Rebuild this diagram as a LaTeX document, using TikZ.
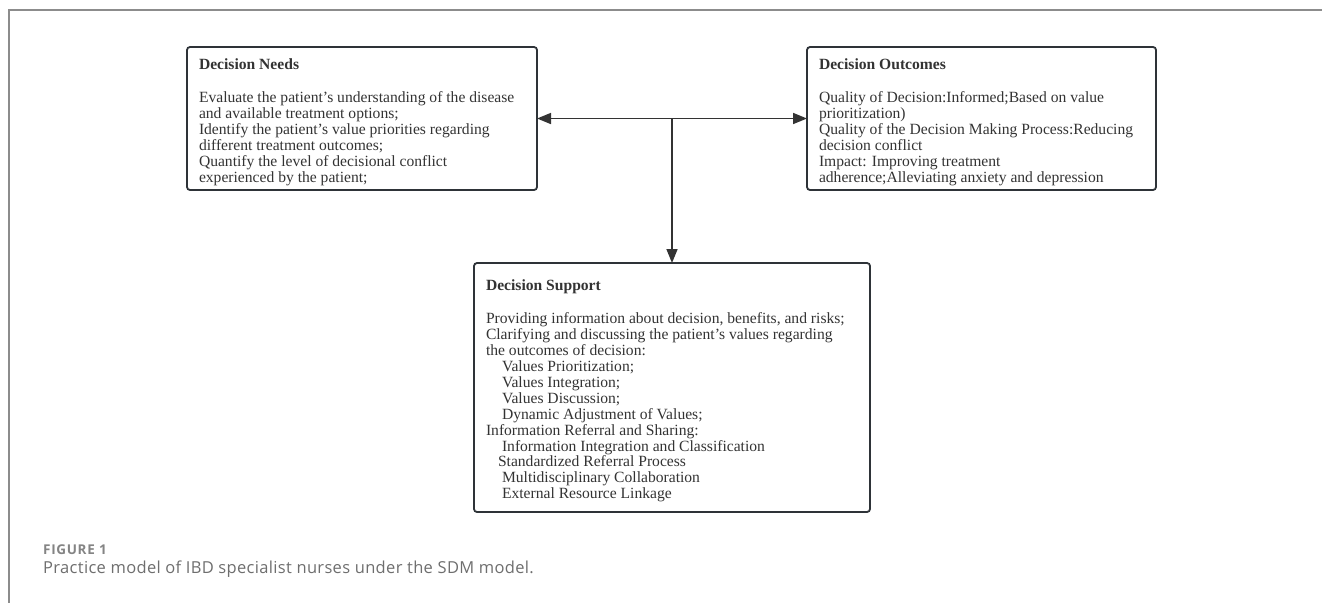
\documentclass[tikz,border=0pt]{standalone}
\usepackage{fontspec}
\setmainfont{Liberation Serif}
\newfontfamily\capfont[LetterSpace=2]{Open Sans}
\newfontfamily\capheadfont[LetterSpace=5]{Open Sans}
\usetikzlibrary{arrows.meta,positioning}
\definecolor{boxline}{HTML}{2E3338}
\definecolor{inktext}{HTML}{333333}
\definecolor{frameline}{HTML}{8C8C8C}
\definecolor{captext}{HTML}{6E6E6E}
\tikzset{
  block/.style={draw=boxline, line width=1.8pt, rounded corners=3pt,
    anchor=north west, outer sep=0pt, inner xsep=12pt, text=inktext,
    font=\fontsize{15.6}{15.9}\selectfont},
  link/.style={draw=inktext, line width=1.6pt},
  tip/.tip={Triangle[length=14pt,width=11pt]}
}

\begin{document}
\begin{tikzpicture}[x=1pt,y=-1pt]
        \useasboundingbox (0,0) rectangle (1322,603);
        % page frame
        \draw[frameline, line width=1.5pt] (1322,10) -- (9,10) -- (9,603);
        % the three boxes
        \node[block, inner ysep=12pt] (needs) at (187,47) {%
          \begin{minipage}[c][119pt][t]{326pt}\raggedright
          \textbf{Decision Needs}\\[17.1pt]
          Evaluate the patient’s understanding of the disease\\
          and available treatment options;\\
          Identify the patient’s value priorities regarding\\
          different treatment outcomes;\\
          Quantify the level of decisional conflict\\
          experienced by the patient;
          \end{minipage}};
        \node[block, inner ysep=12pt] (outcomes) at (807,47) {%
          \begin{minipage}[c][119pt][t]{325pt}\raggedright
          \textbf{Decision Outcomes}\\[17.1pt]
          Quality of Decision:Informed;Based on value\\
          prioritization)\\
          Quality of the Decision Making Process:Reducing\\
          decision conflict\\
          Impact: Improving treatment\\
          adherence;Alleviating anxiety and depression
          \end{minipage}};
        \node[block, inner ysep=17pt] (support) at (474,263) {%
          \begin{minipage}[c][215pt][t]{372pt}\raggedright
          \textbf{Decision Support}\\[17.1pt]
          Providing information about decision, benefits, and risks;\\
          Clarifying and discussing the patient’s values regarding\\
          the outcomes of decision:\\
          \hspace*{16pt}Values Prioritization;\\
          \hspace*{16pt}Values Integration;\\
          \hspace*{16pt}Values Discussion;\\
          \hspace*{16pt}Dynamic Adjustment of Values;\\
          Information Referral and Sharing:\\
          \hspace*{16pt}Information Integration and Classification\\
          \hspace*{12pt}Standardized Referral Process\\
          \hspace*{16pt}Multidisciplinary Collaboration\\
          \hspace*{16pt}External Resource Linkage
          \end{minipage}};
        % connectors
        \coordinate (hub) at (needs.east -| support.north);
        \draw[link, tip-tip] (needs.east) -- (outcomes.west);
        \draw[link, -tip] (hub) -- (support.north);
        % caption
        \node[anchor=base west, inner sep=0pt, text=captext!85,
          font=\capheadfont\bfseries\fontsize{13.5}{13.5}\selectfont] (figno) at (43,554) {FIGURE 1};
        \node[anchor=base west, inner sep=0pt, text=captext,
          font=\capfont\fontsize{16.5}{16.5}\selectfont] (figcap) at (43,573)
          {Practice model of IBD specialist nurses under the SDM model.};
    \end{tikzpicture}
\end{document}
